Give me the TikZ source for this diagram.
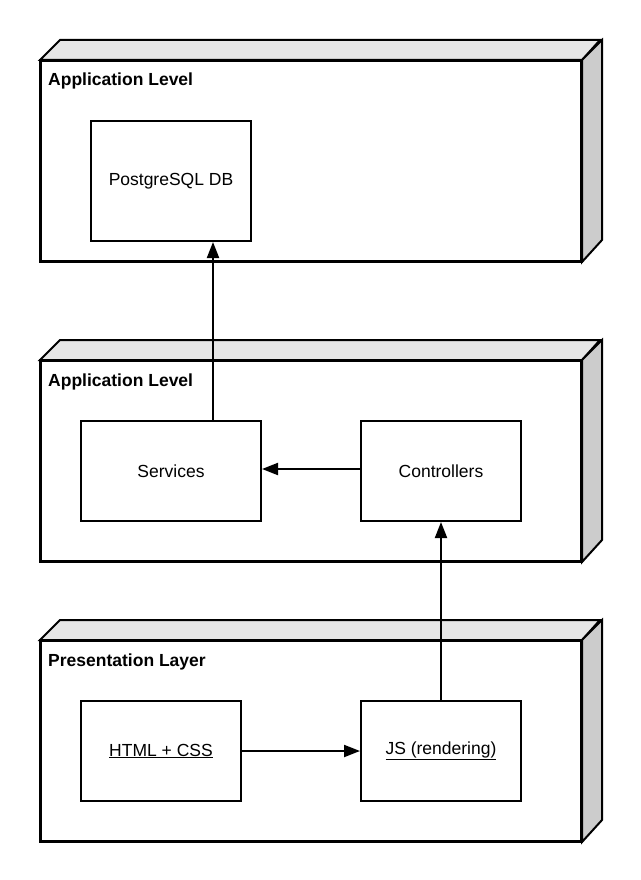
\documentclass[tikz,border=0pt]{standalone}
\usepackage{fontspec}
\setmainfont{Liberation Sans}
\usetikzlibrary{arrows.meta,calc}
\definecolor{topface}{HTML}{E6E6E6}
\definecolor{sideface}{HTML}{CCCCCC}
\tikzset{
  front/.style={draw=black, line width=2pt, fill=white, minimum width=540pt, minimum height=200pt, inner sep=0pt, anchor=north west},
  face/.style={draw=black, line width=2pt, line join=miter},
  inner/.style={draw=black, line width=2pt, fill=white, inner sep=0pt, anchor=north west, font=\fontsize{17.5}{21}\selectfont},
  title/.style={anchor=base west, inner sep=0pt, font=\fontsize{17.5}{21}\selectfont\bfseries},
  conn/.style={line width=2pt, -{Triangle[length=16pt,width=12pt]}}
}
\newcommand{\depthbox}[2]{%
  \node[front] (#1) at #2 {};
  \filldraw[face, fill=topface] (#1.north west) -- ++(20pt,20pt) -- ++(540pt,0) -- (#1.north east) -- cycle;
  \filldraw[face, fill=sideface] (#1.north east) -- ++(20pt,20pt) -- ++(0,-200pt) -- (#1.south east) -- cycle;
  \draw[line width=2pt] (#1.north west) rectangle (#1.south east);
}
\begin{document}
\begin{tikzpicture}[x=1pt,y=-1pt]
\useasboundingbox (0,0) rectangle (640,880);
\depthbox{app1}{(40,60)}
\depthbox{app2}{(40,360)}
\depthbox{pres}{(40,640)}
\node[title] (t1) at (48,86) {Application Level};
\node[title] (t2) at (48,386) {Application Level};
\node[title] (t3) at (48,666) {Presentation Layer};
\node[inner, minimum width=160pt, minimum height=120pt] (db) at (90,120) {PostgreSQL DB};
\node[inner, minimum width=180pt, minimum height=100pt] (svc) at (80,420) {Services};
\node[inner, minimum width=160pt, minimum height=100pt] (ctl) at (360,420) {Controllers};
\node[inner, minimum width=160pt, minimum height=100pt] (html) at (80,700) {\underline{HTML + CSS}};
\node[inner, minimum width=160pt, minimum height=100pt] (js) at (360,700) {\underline{JS (rendering)}};
\draw[conn] (svc.north -| 213,0) -- (db.south -| 213,0);
\draw[conn] (ctl.west |- 0,469) -- (svc.east |- 0,469);
\draw[conn] (js.north) -- (ctl.south);
\draw[conn] (html.east) -- (js.west);
\end{tikzpicture}
\end{document}
